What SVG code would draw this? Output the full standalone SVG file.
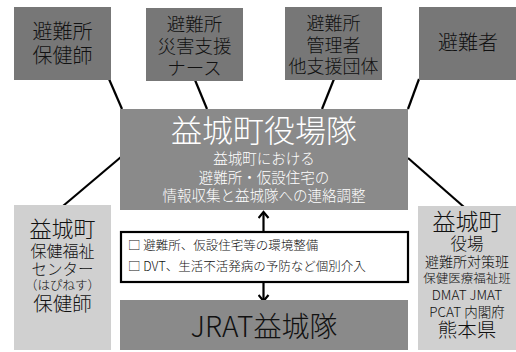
<svg xmlns="http://www.w3.org/2000/svg" width="516" height="352" viewBox="0 0 516 352">
<defs>
<style>
text{font-family:"Noto Sans CJK JP","Noto Sans CJK SC",sans-serif;font-weight:300;text-anchor:middle;fill:#111}
.dark{fill:#777777}
.mid{fill:#8a8a8a}
.light{fill:#d0d0d0}
.conn{stroke:#000;stroke-width:2.2;fill:none}
.w{fill:#fff}
.s{text-anchor:start}
</style>
<marker id="ah" viewBox="0 0 12 12" refX="10" refY="6" markerWidth="12" markerHeight="12" markerUnits="userSpaceOnUse" orient="auto">
<polyline points="4,1 10,6 4,11" fill="none" stroke="#000" stroke-width="2.2"/>
</marker>
</defs>
<rect width="516" height="352" fill="#fff"/>
<g id="connectors">
<line class="conn" x1="109" y1="79" x2="122" y2="109"/>
<line class="conn" x1="195" y1="80" x2="207" y2="109"/>
<line class="conn" x1="334" y1="79" x2="322" y2="109"/>
<line class="conn" x1="419" y1="79" x2="408" y2="109"/>
<line class="conn" x1="121" y1="157" x2="63" y2="206"/>
<line class="conn" x1="408" y1="158" x2="464" y2="207"/>
<line class="conn" x1="263.5" y1="231" x2="263.5" y2="212" marker-end="url(#ah)"/>
<line class="conn" x1="263.5" y1="283" x2="263.5" y2="301" marker-end="url(#ah)"/>
</g>
<g id="n1">
<rect class="dark" x="14" y="7" width="97" height="73"/>
<text x="62.5" y="39" font-size="20">避難所</text>
<text x="62.5" y="63" font-size="20">保健師</text>
</g>
<g id="n2">
<rect class="dark" x="146" y="8" width="97" height="73"/>
<text x="194.5" y="31" font-size="18.5">避難所</text>
<text x="194.5" y="53" font-size="18.5">災害支援</text>
<text x="194.5" y="75" font-size="18.5">ナース</text>
</g>
<g id="n3">
<rect class="dark" x="285" y="7" width="97" height="73"/>
<text x="333.5" y="30" font-size="18">避難所</text>
<text x="333.5" y="52" font-size="18">管理者</text>
<text x="333.5" y="73" font-size="18">他支援団体</text>
</g>
<g id="n4">
<rect class="dark" x="419" y="7" width="97" height="73"/>
<text x="468" y="50" font-size="20">避難者</text>
</g>
<g id="center">
<rect class="mid" x="120" y="109" width="288" height="101"/>
<text class="w" x="264" y="142" font-size="31" style="fill:#fff">益城町役場隊</text>
<text x="264" y="164" font-size="14.5" style="fill:#fff">益城町における</text>
<text x="264" y="183" font-size="14.5" style="fill:#fff">避難所・仮設住宅の</text>
<text x="264" y="201" font-size="14.5" style="fill:#fff">情報収集と益城隊への連絡調整</text>
</g>
<g id="left">
<rect class="light" x="14" y="205" width="97" height="145"/>
<text x="62.5" y="237" font-size="22">益城町</text>
<text x="62.5" y="257" font-size="16">保健福祉</text>
<text x="62.5" y="275" font-size="15.5">センター</text>
<text x="62.5" y="290" font-size="12.5">（はぴねす）</text>
<text x="62.5" y="311" font-size="19.5">保健師</text>
</g>
<g id="right">
<rect class="light" x="418" y="206" width="98" height="144"/>
<text x="467" y="230" font-size="23">益城町</text>
<text x="467" y="250" font-size="16.5">役場</text>
<text x="467" y="267" font-size="14">避難所対策班</text>
<text x="467" y="283" font-size="12.5">保健医療福祉班</text>
<text x="467" y="300" font-size="13.5">DMAT JMAT</text>
<text x="467" y="317" font-size="13.5">PCAT 内閣府</text>
<text x="467" y="337" font-size="19.5">熊本県</text>
</g>
<g id="tasks">
<rect x="121" y="232" width="287" height="50" fill="#fff" stroke="#000" stroke-width="2.2"/>
<text class="s" x="128" y="250" font-size="12.5">□ 避難所、仮設住宅等の環境整備</text>
<text class="s" x="128" y="271" font-size="12.5">□ DVT、生活不活発病の予防など個別介入</text>
</g>
<g id="jrat">
<rect class="mid" x="120" y="300" width="288" height="50"/>
<text x="264" y="337" font-size="28">JRAT益城隊</text>
</g>
</svg>
